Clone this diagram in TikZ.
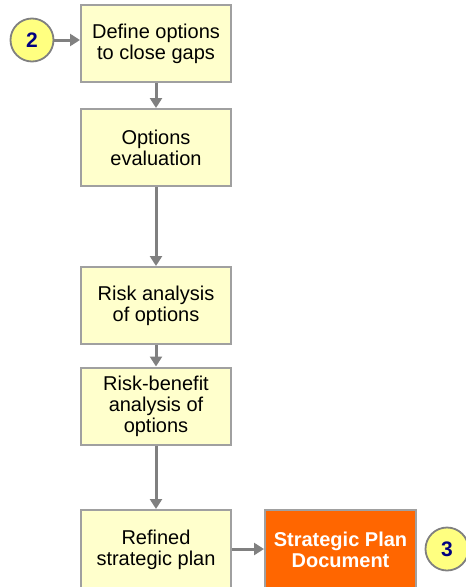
\documentclass[tikz,border=0pt]{standalone}
\usepackage{fontspec}
\setmainfont{Liberation Sans}
\usetikzlibrary{arrows.meta}
\definecolor{boxfill}{HTML}{FFFFCC}
\definecolor{boxline}{HTML}{A0A0A0}
\definecolor{arrowgray}{HTML}{808080}
\definecolor{badgefill}{HTML}{FFFF80}
\definecolor{badgetext}{HTML}{000080}
\definecolor{docorange}{HTML}{FF6600}
\tikzset{
  stepbox/.style={draw=boxline, line width=2pt, fill=boxfill, minimum width=150pt,
    minimum height=77pt, align=center, font=\fontsize{20}{21}\selectfont, inner sep=0pt},
  docbox/.style={draw=boxline, line width=2pt, fill=docorange, minimum width=151pt,
    minimum height=80pt, align=center, text=white, font=\fontsize{20}{21}\selectfont\bfseries, inner sep=0pt},
  badge/.style={circle, draw=arrowgray, line width=1.8pt, fill=badgefill, minimum size=43pt,
    inner sep=0pt, text=badgetext, font=\fontsize{21}{22}\selectfont\bfseries},
  flow/.style={draw=arrowgray, line width=3pt, -{Triangle[length=10pt,width=12pt]}},
}
\begin{document}
\begin{tikzpicture}[x=1pt,y=-1pt]
  \useasboundingbox (0,0) rectangle (466,587);
  \clip (0,0) rectangle (466,587);
  \node[stepbox] (define) at (156,43.5) {Define options\\to close gaps};
  \node[stepbox] (eval) at (156,147.5) {Options\\evaluation};
  \node[stepbox] (risk) at (156,305.5) {Risk analysis\\of options};
  \node[stepbox] (benefit) at (156,406) {Risk-benefit\\analysis of\\options};
  \node[stepbox, minimum height=80pt] (refined) at (156,550) {Refined\\strategic plan};
  \node[docbox] (doc) at (340.5,550) {Strategic Plan\\Document};
  \node[badge] (two) at (32,40) {2};
  \node[badge] (three) at (447,549) {3};
  \draw[flow] (two.east) -- (define.west |- two.east);
  \draw[flow] (define) -- (eval);
  \draw[flow] (eval) -- (risk);
  \draw[flow] (risk) -- (benefit);
  \draw[flow] (benefit) -- (refined);
  \draw[flow] (refined.east |- 0,549) -- (doc.west |- 0,549);
\end{tikzpicture}
\end{document}
